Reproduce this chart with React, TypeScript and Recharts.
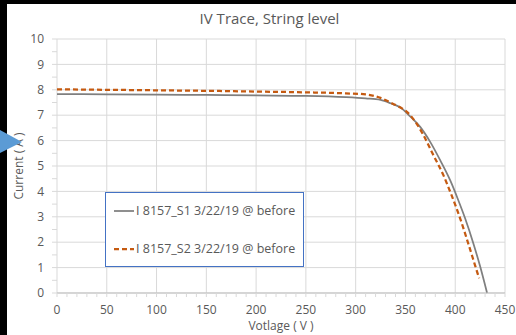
import React from 'react';
import { LineChart, Line, XAxis, YAxis, CartesianGrid, Legend } from 'recharts';

// String S1 (solid grey)
const s1Volts = [0, 50, 100, 150, 200, 250, 290, 310, 325, 335, 345, 355, 365, 375, 385, 395, 403, 410, 418, 425, 432];
const s1Amps = [7.83, 7.82, 7.81, 7.8, 7.78, 7.76, 7.71, 7.66, 7.6, 7.47, 7.3, 6.94, 6.53, 5.94, 5.22, 4.43, 3.66, 2.93, 1.98, 1.05, 0];

// String S2 (dashed orange)
const s2Volts = [0, 50, 100, 150, 200, 250, 290, 310, 325, 335, 345, 350, 360, 368, 378, 388, 396, 405, 413, 420, 424];
const s2Amps = [8.02, 8.0, 7.98, 7.96, 7.93, 7.9, 7.86, 7.82, 7.68, 7.5, 7.3, 7.18, 6.74, 6.22, 5.43, 4.65, 3.88, 2.93, 1.96, 1.08, 0.58];

const xMajor = [0, 50, 100, 150, 200, 250, 300, 350, 400, 450];
const xMinor = [0, 10, 20, 30, 40, 50, 60, 70, 80, 90, 100, 110, 120, 130, 140, 150, 160, 170, 180, 190, 200, 210, 220, 230, 240, 250, 260, 270, 280, 290, 300, 310, 320, 330, 340, 350, 360, 370, 380, 390, 400, 410, 420, 430, 440, 450];
const yMajor = [0, 1, 2, 3, 4, 5, 6, 7, 8, 9, 10];
const yMinor = [0, 0.5, 1, 1.5, 2, 2.5, 3, 3.5, 4, 4.5, 5, 5.5, 6, 6.5, 7, 7.5, 8, 8.5, 9, 9.5, 10];

const seriesNames = ['I 8157_S1 3/22/19 @ before', 'I 8157_S2 3/22/19 @ before'];

const s1Data = s1Volts.map((v, i) => ({ v, i: s1Amps[i] }));
const s2Data = s2Volts.map((v, i) => ({ v, i: s2Amps[i] }));

const series = [
  { name: seriesNames[0], data: s1Data, color: '#7F7F7F', width: 1.75, dash: undefined as string | undefined },
  { name: seriesNames[1], data: s2Data, color: '#C55A11', width: 2.25, dash: '5 3' },
];

const textColor = '#595959';
const gridColor = '#D9D9D9';

const LegendBox = () => (
  <div
    style={{
      width: 199,
      height: 75,
      border: '1.5px solid #4472C4',
      background: '#fff',
      boxSizing: 'border-box',
      paddingTop: 8,
    }}
  >
    {series.map((s, idx) => (
      <div key={s.name} style={{ display: 'flex', alignItems: 'center', height: 19, marginBottom: idx === 0 ? 19 : 0 }}>
        <svg width={30} height={10} style={{ flex: 'none' }}>
          <line x1={8} y1={5} x2={28} y2={5} stroke={s.color} strokeWidth={s.width} strokeDasharray={s.dash} />
        </svg>
        <span style={{ fontSize: 12.5, color: textColor, whiteSpace: 'nowrap' }}>{s.name}</span>
      </div>
    ))}
  </div>
);

export default function App() {
  return (
    <div style={{ position: 'absolute', left: 0, top: 0, width: 516, height: 335, background: '#000', overflow: 'hidden', fontFamily: '"Open Sans", sans-serif' }}>
      <div style={{ position: 'absolute', left: 7, top: 4, width: 509, height: 331, background: '#fff' }}>
        <div style={{ position: 'absolute', left: 0, top: 4, width: 525, textAlign: 'center', fontSize: 15, color: textColor }}>
          IV Trace, String level
        </div>
        <LineChart width={509} height={331} margin={{ top: 35, right: 11, bottom: 0, left: 0 }}>
          <CartesianGrid
            stroke={gridColor}
            verticalCoordinatesGenerator={({ xAxis, offset }: any) =>
              xMajor.map((v) => (xAxis && typeof xAxis.scale === 'function' ? xAxis.scale(v) : offset.left + (v / 450) * offset.width))
            }
            horizontalCoordinatesGenerator={({ yAxis, offset }: any) =>
              yMajor.map((v) => (yAxis && typeof yAxis.scale === 'function' ? yAxis.scale(v) : offset.top + offset.height - (v / 10) * offset.height))
            }
          />
          <XAxis
            dataKey="v"
            type="number"
            domain={[0, 450]}
            ticks={xMinor}
            interval={0}
            allowDuplicatedCategory={false}
            tickFormatter={(v: number) => (v % 50 === 0 ? String(v) : '')}
            tick={{ fill: textColor, fontSize: 12 }}
            tickSize={4}
            tickMargin={8}
            stroke={gridColor}
            axisLine={{ stroke: '#BFBFBF' }}
            height={42}
            label={{ value: 'Votlage ( V )', position: 'insideBottom', offset: 5, fill: textColor, fontSize: 12 }}
          />
          <YAxis
            type="number"
            domain={[0, 10]}
            ticks={yMinor}
            interval={0}
            tickFormatter={(v: number) => (Number.isInteger(v) ? String(v) : '')}
            tick={{ fill: textColor, fontSize: 12 }}
            tickSize={5}
            tickMargin={8}
            stroke={gridColor}
            axisLine={false}
            width={50}
            label={{ value: 'Current ( A )', angle: -90, position: 'insideLeft', offset: 12, fill: textColor, fontSize: 12, style: { textAnchor: 'middle' } }}
          />
          <Legend
            layout="horizontal"
            verticalAlign="middle"
            align="center"
            wrapperStyle={{ left: 98, top: 188, width: 199, height: 75 }}
            content={() => <LegendBox />}
          />
          {series.map((s) => (
            <Line
              key={s.name}
              name={s.name}
              data={s.data}
              dataKey="i"
              type="monotone"
              stroke={s.color}
              strokeWidth={s.width}
              strokeDasharray={s.dash}
              dot={false}
              activeDot={false}
              isAnimationActive={false}
            />
          ))}
        </LineChart>
      </div>
      <svg width={30} height={40} style={{ position: 'absolute', left: 0, top: 125 }}>
        <polygon points="0,5 22,17 0,28" fill="#5B9BD5" />
      </svg>
    </div>
  );
}
